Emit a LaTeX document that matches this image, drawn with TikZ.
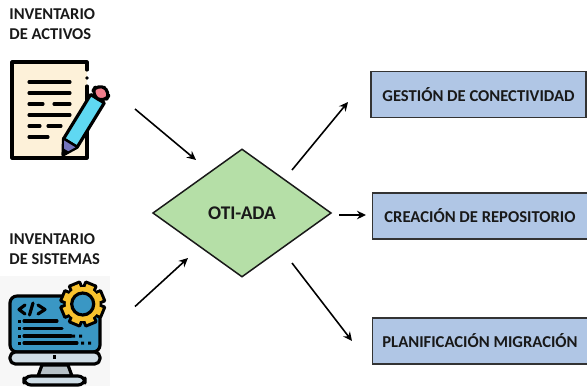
\documentclass[tikz,border=0pt]{standalone}
\usepackage{fontspec}
\setmainfont{Carlito}
\usetikzlibrary{arrows.meta,shapes.geometric,positioning}

\definecolor{paper}{HTML}{FDF1D9}
\definecolor{pencil}{HTML}{5FD8F2}
\definecolor{eraser}{HTML}{F27D8C}
\definecolor{screen}{HTML}{3A97C4}
\definecolor{bezel}{HTML}{CFDDE6}
\definecolor{gear}{HTML}{F8C22E}

\begin{document}
\begin{tikzpicture}[
    x=0.02cm, y=-0.02cm,
    title/.style={font=\fontsize{9.4}{11.4}\selectfont\bfseries, align=left, inner sep=0pt, text=black!90},
    task/.style={draw=black!80, fill={rgb,255:red,176;green,198;blue,229}, line width=0.85pt, minimum height=0.92cm, font=\fontsize{9.45}{11}\selectfont\bfseries, text=black!90},
    hub/.style={diamond, draw=black!90, fill={rgb,255:red,181;green,223;blue,167}, line width=0.85pt, inner sep=0pt, outer sep=0pt, minimum width=3.56cm, minimum height=2.55cm, font=\fontsize{11}{13}\selectfont\bfseries, text=black!90},
    arrow/.style={-{Stealth[length=1.8mm, width=1.7mm]}, line width=0.9pt},
    ink/.style={line width=1.8pt, line cap=round, line join=round}
]
\useasboundingbox (0,0) rectangle (587,386);

% Titles
\node[title, anchor=north west] (activos) at (9,8.5) {INVENTARIO\\DE ACTIVOS};
\node[title, anchor=north west] (sistemas) at (9,233) {INVENTARIO\\DE SISTEMAS};

% Document icon
\fill[paper] (12,62) rectangle (87,158);
\draw[ink] (87,70) -- (87,62) -- (12,62) -- (12,158) -- (87,158) -- (87,86);
\fill (87,78) circle (1.8);
\foreach \ya/\xa in {82/70, 93/70, 115/70, 137/48}
    \draw[ink] (29,\ya) -- (\xa,\ya);
\draw[ink] (29,104) -- (43,104) (54,104) -- (70,104);
\draw[ink] (29,126) -- (40,126) (48,126) -- (61,126);

% Pencil
\begin{scope}[shift={(63,155)}, rotate=58.5]
    \draw[ink, fill=pencil] (14,-8) -- (66,-8) -- (66,8) -- (14,8) -- cycle;
    \draw[ink, fill=eraser, rounded corners=5pt] (66,-8) -- (79,-8) -- (79,8) -- (66,8) -- cycle;
    \draw[ink, fill=black] (0,0) -- (14,-8) -- (14,8) -- cycle;
    \fill[blue!35!gray!80!white] (6,-2.5) -- (13,-6.5) -- (13,6.5) -- (6,2.5) -- cycle;
\end{scope}

% Monitor icon
\fill[black!3] (0,276) rectangle (110,386);
\draw[ink, fill=screen, rounded corners=4pt] (10,296) -- (100,296) -- (100,352) -- (10,352) -- cycle;
\draw[ink, fill=bezel, rounded corners=3pt] (10,352) -- (100,352) -- (100,364) -- (10,364) -- cycle;
\draw[ink, fill=bezel!70!gray] (42,365) -- (68,365) -- (72,376) -- (38,376) -- cycle;
\draw[ink, fill=bezel, rounded corners=4pt] (24,376) rectangle (85,385);
\fill (52.5,355) rectangle (56,359);
\draw[ink] (25,305) -- (19,309.5) -- (25,314) (33,303) -- (29.5,315) (38,305) -- (45,309.5) -- (38,314);
\foreach \ya/\xa in {321/57, 328.5/62, 336/71, 343/77} {
    \fill (17.5,\ya-1.5) rectangle (21,\ya+1.5);
    \draw[ink] (24,\ya) -- (\xa,\ya);
}
\fill (72,334.5) rectangle (75,337.5) (79,334.5) rectangle (82,337.5);
\fill (81,341.5) rectangle (84,344.5) (88,341.5) rectangle (91,344.5);

% Gear
\begin{scope}[shift={(82.7,304)}]
    \foreach \a in {0,45,...,315}
        \draw[ink, fill=black, rotate=\a+22.5] (-5.5,-21.5) rectangle (5.5,0);
    \fill (0,0) circle (19);
    \foreach \a in {0,45,...,315}
        \fill[gear, rotate=\a+22.5] (-4,-20) rectangle (4,0);
    \fill[gear] (0,0) circle (17);
    \draw[ink, fill=screen] (0,0) circle (11);
\end{scope}

% Center and tasks
\node[hub] (oti) at (242,213) {OTI-ADA};
\node[task, minimum width=4.31cm] (gestion) at (478.5,94.5) {GESTIÓN DE CONECTIVIDAD};
\node[task, minimum width=4.3cm] (creacion) at (480,216) {CREACIÓN DE REPOSITORIO};
\node[task, minimum width=4.3cm] (planif) at (480,341) {PLANIFICACIÓN MIGRACIÓN};

% Arrow ends
\coordinate (a1) at (135,109);
\coordinate (a2) at (196,160);
\coordinate (b1) at (135,306.5);
\coordinate (b2) at (188,258);
\coordinate (c1) at (292,170);
\coordinate (c2) at (348,102);
\coordinate (d1) at (339,215);
\coordinate (d2) at (366,215);
\coordinate (e1) at (292,263);
\coordinate (e2) at (352,341);

% Arrows
\draw[arrow] (a1) -- (a2);
\draw[arrow] (b1) -- (b2);
\draw[arrow] (c1) -- (c2);
\draw[arrow] (d1) -- (d2);
\draw[arrow] (e1) -- (e2);

\end{tikzpicture}
\end{document}
